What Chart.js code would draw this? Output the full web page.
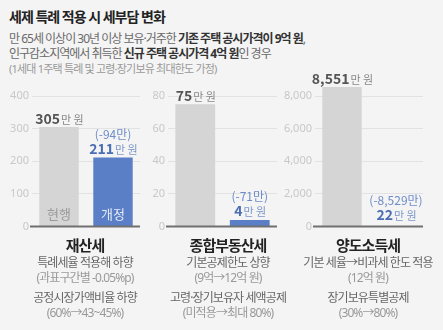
<!DOCTYPE html>
<html>
<head>
<meta charset="utf-8">
<script src="https://cdn.jsdelivr.net/npm/chart.js@4"></script>
<style>
  body { margin: 0; background: #f4f4f4; font-family: "Noto Sans", "Noto Sans CJK KR", sans-serif; }
  #wrap { position: relative; width: 443px; height: 330px; overflow: hidden; background: #f4f4f4; }
  .abs { position: absolute; white-space: nowrap; }
  #title { left: 9px; top: 7px; font-size: 14px; line-height: 20px; font-weight: bold; color: #222; letter-spacing: -1px; }
  .sub { left: 9px; font-size: 12px; line-height: 15px; color: #6a6a6a; letter-spacing: -1px; }
  .sub b { color: #333; }
  .sub.small { font-size: 11px; color: #999; letter-spacing: -0.8px; }
  canvas { position: absolute; top: 66px; }
  .note { position: absolute; width: 160px; text-align: center; white-space: nowrap; letter-spacing: -0.9px; }
  .note.head { font-size: 15px; font-weight: bold; color: #222; line-height: 20px; letter-spacing: -1px; }
  .note.desc { font-size: 12px; color: #666; line-height: 15px; }
  .note.paren { font-size: 12px; color: #999; line-height: 15px; }
</style>
</head>
<body>
<div id="wrap">
  <div id="title" class="abs">세제 특례 적용 시 세부담 변화</div>
  <div class="abs sub" style="top:31px">만 65세 이상이 30년 이상 보유·거주한 <b>기존 주택 공시가격이 9억 원</b>,</div>
  <div class="abs sub" style="top:46px">인구감소지역에서 취득한 <b>신규 주택 공시가격 4억 원</b>인 경우</div>
  <div class="abs sub small" style="top:61px">(1세대 1주택 특례 및 고령·장기보유 최대한도 가정)</div>
  <canvas id="c0" width="142" height="170" style="left:0px"></canvas>
  <canvas id="c1" width="134" height="170" style="left:145px"></canvas>
  <canvas id="c2" width="143" height="170" style="left:282px"></canvas>
</div>
<script>
const categories = ["재산세", "종합부동산세", "양도소득세"];
const scenarioLabels = ["현행", "개정"];
const currentTax = [305, 75, 8551];
const revisedTax = [211, 4, 22];
const taxChange = [-94, -71, -8529];
const axisMax = [400, 80, 8000];
const axisStep = [100, 20, 2000];
const notes = [
  ["특례세율 적용해 하향", "(과표구간별 -0.05%p)", "공정시장가액비율 하향", "(60%→43~45%)"],
  ["기본공제한도 상향", "(9억→12억 원)", "고령·장기보유자 세액공제", "(미적용→최대 80%)"],
  ["기본 세율→비과세 한도 적용", "(12억 원)", "장기보유특별공제", "(30%→80%)"]
];

const GRAY = "#d5d5d5";
const BLUE = "#5a7fc6";
const FONT = '"Noto Sans CJK KR", sans-serif';
const axisWidth = [32, 23, 33];
const noteCenters = [85, 228, 368];

const fmt = (v) => v.toLocaleString("en-US");

// 숫자(굵게) + "만 원"(작게)
function drawValue(ctx, x, y, num, c1, c2) {
  const a = fmt(num);
  const b = "만 원";
  ctx.font = "bold 14px " + FONT;
  const wa = ctx.measureText(a).width;
  ctx.font = "11px " + FONT;
  const wb = ctx.measureText(b).width;
  let sx = x - (wa + wb) / 2;
  ctx.textAlign = "left";
  ctx.textBaseline = "alphabetic";
  ctx.font = "bold 14px " + FONT;
  ctx.fillStyle = c1;
  ctx.fillText(a, sx, y);
  ctx.font = "11px " + FONT;
  ctx.fillStyle = c2;
  ctx.fillText(b, sx + wa + 1, y);
}

const labelPlugin = (i) => ({
  id: "labels" + i,
  afterDatasetsDraw(chart) {
    const ctx = chart.ctx;
    const area = chart.chartArea;
    const bars = chart.getDatasetMeta(0).data;
    const y0 = chart.scales.y.getPixelForValue(0);
    ctx.save();
    // baseline
    ctx.strokeStyle = "#707070";
    ctx.lineWidth = 2;
    ctx.beginPath();
    ctx.moveTo(area.left - 2, y0);
    ctx.lineTo(area.right, y0);
    ctx.stroke();

    drawValue(ctx, bars[0].x, bars[0].y - 3, currentTax[i], "#555", "#888");
    const yb = Math.min(bars[1].y, y0 - 2) - 4;
    drawValue(ctx, bars[1].x, yb, revisedTax[i], "#4a6db3", "#7d97c9");
    ctx.font = "12px " + FONT;
    ctx.fillStyle = "#6d8cc8";
    ctx.textAlign = "center";
    ctx.fillText("(" + fmt(taxChange[i]) + "만)", bars[1].x, yb - 15);

    if (i === 0) {
      ctx.font = "13px " + FONT;
      ctx.textBaseline = "middle";
      ctx.fillStyle = "#9a9a9a";
      ctx.fillText(scenarioLabels[0], bars[0].x, y0 - 12);
      ctx.fillStyle = "#e6ecf7";
      ctx.fillText(scenarioLabels[1], bars[1].x, y0 - 12);
    }
    ctx.restore();
  }
});

function makeChart(i) {
  new Chart(document.getElementById("c" + i), {
    type: "bar",
    data: {
      labels: scenarioLabels,
      datasets: [{
        data: [currentTax[i], revisedTax[i]],
        backgroundColor: [GRAY, BLUE],
        barPercentage: 0.73,
        categoryPercentage: 1,
        clip: false
      }]
    },
    options: {
      responsive: false,
      animation: false,
      layout: { padding: { top: 30, right: 2, bottom: 7, left: 0 } },
      plugins: { legend: { display: false }, tooltip: { enabled: false } },
      scales: {
        x: { display: false },
        y: {
          min: 0,
          max: axisMax[i],
          ticks: {
            stepSize: axisStep[i],
            color: "#c8c8c8",
            padding: 3,
            font: { family: "Noto Sans", size: 11 },
            callback: (v) => fmt(v)
          },
          grid: {
            drawTicks: false,
            color: (c) => (c.tick && c.tick.value === 0 ? "rgba(0,0,0,0)" : "#e2e2e2")
          },
          border: { display: false },
          afterFit: (s) => { s.width = axisWidth[i]; }
        }
      }
    },
    plugins: [labelPlugin(i)]
  });
}

[0, 1, 2].forEach(makeChart);

// 하단 설명
const wrap = document.getElementById("wrap");
const lineTops = [235, 255, 270, 290, 305];
categories.forEach((cat, i) => {
  const lines = [cat].concat(notes[i]);
  lines.forEach((t, k) => {
    const d = document.createElement("div");
    d.className = "note " + (k === 0 ? "head" : (t.startsWith("(") ? "paren" : "desc"));
    d.textContent = t;
    d.style.left = (noteCenters[i] - 80) + "px";
    d.style.top = lineTops[k] + "px";
    wrap.appendChild(d);
  });
});
</script>
</body>
</html>
